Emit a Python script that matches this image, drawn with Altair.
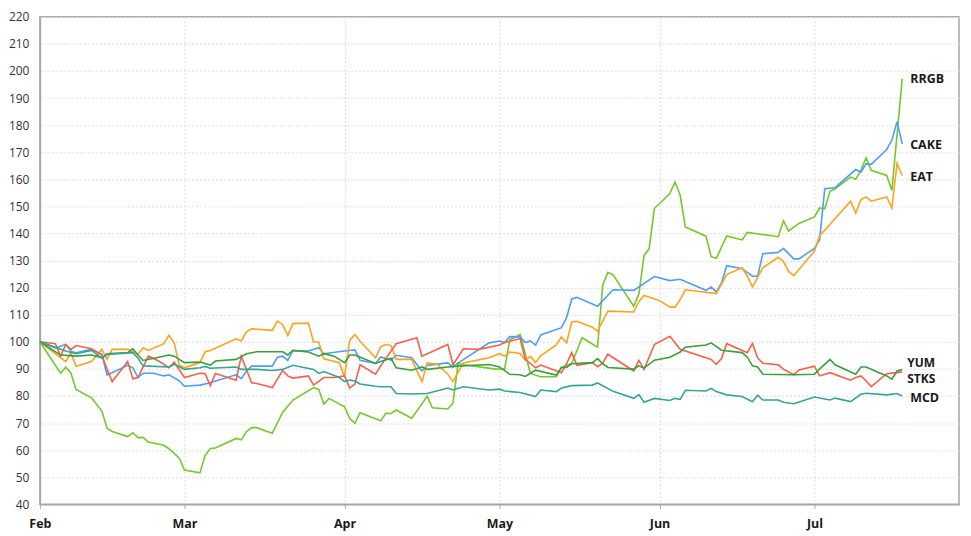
import altair as alt
import pandas as pd

YEAR = 2021

# readings, index = 100 on Feb 1
rrgb_dates = ["02-01", "02-05", "02-06", "02-07", "02-08", "02-11", "02-13", "02-14", "02-15", "02-18",
              "02-19", "02-20", "02-21", "02-22", "02-25", "02-26", "02-28", "03-01", "03-04", "03-05",
              "03-06", "03-07", "03-11", "03-12", "03-13", "03-14", "03-15", "03-18", "03-20", "03-22",
              "03-26", "03-27", "03-28", "03-29", "04-01", "04-02", "04-03", "04-04", "04-08", "04-09",
              "04-10", "04-11", "04-14", "04-15", "04-17", "04-18", "04-21", "04-22", "04-23", "04-24",
              "04-30", "05-02", "05-03", "05-05", "05-07", "05-09", "05-12", "05-13", "05-15", "05-17",
              "05-20", "05-21", "05-22", "05-23", "05-27", "05-28", "05-29", "05-30", "05-31", "06-03",
              "06-04", "06-05", "06-06", "06-10", "06-11", "06-12", "06-14", "06-17", "06-18", "06-24",
              "06-25", "06-26", "06-28", "07-01", "07-02", "07-03", "07-04", "07-05", "07-08", "07-09",
              "07-10", "07-11", "07-12", "07-15", "07-16", "07-18"]
rrgb_vals = [100, 88.4, 90.6, 88.5, 82.4, 79.3, 74.4, 68.1, 66.9, 65.0,
             66.4, 64.6, 64.7, 63.0, 61.8, 60.5, 57.0, 52.6, 51.6, 58.1,
             60.6, 60.8, 64.3, 63.8, 66.8, 68.3, 68.3, 66.2, 73.9, 78.5,
             83.1, 82.4, 77.0, 79.1, 76.0, 71.7, 69.9, 73.8, 70.8, 73.6,
             73.5, 74.8, 71.8, 74.4, 79.9, 75.6, 75.2, 77.4, 92.1, 91.5,
             90.0, 89.9, 100.7, 102.7, 88.3, 87.1, 87.1, 90.5, 92.0, 101.5,
             98.0, 121.0, 125.6, 124.7, 113.1, 117.6, 131.8, 134.5, 149.2, 154.7,
             159.0, 154.1, 142.4, 139.0, 131.4, 130.8, 139.1, 137.6, 140.4, 138.8,
             144.7, 140.9, 143.7, 146.1, 149.4, 149.1, 155.6, 156.5, 160.8, 160.0,
             163.3, 167.9, 163.3, 161.4, 155.9, 197.1]

cake_dates = ["02-01", "02-04", "02-06", "02-07", "02-08", "02-11", "02-13", "02-14", "02-15", "02-18",
              "02-19", "02-20", "02-21", "02-23", "02-25", "02-26", "02-28", "03-01", "03-04", "03-06",
              "03-07", "03-11", "03-12", "03-13", "03-14", "03-18", "03-19", "03-20", "03-21", "03-22",
              "03-25", "03-27", "03-28", "04-01", "04-03", "04-04", "04-07", "04-08", "04-10", "04-11",
              "04-14", "04-16", "04-17", "04-21", "04-22", "04-23", "04-24", "04-29", "05-01", "05-02",
              "05-03", "05-05", "05-06", "05-07", "05-08", "05-09", "05-13", "05-14", "05-15", "05-16",
              "05-20", "05-23", "05-27", "05-31", "06-03", "06-05", "06-10", "06-11", "06-12", "06-13",
              "06-14", "06-17", "06-19", "06-20", "06-21", "06-24", "06-25", "06-27", "06-28", "07-01",
              "07-02", "07-03", "07-05", "07-09", "07-10", "07-11", "07-12", "07-15", "07-16", "07-17",
              "07-18"]
cake_vals = [100, 97.7, 99.0, 96.6, 95.9, 97.2, 95.4, 87.8, 88.6, 91.3,
             90.4, 86.8, 88.4, 88.4, 87.4, 87.8, 85.6, 83.6, 84.0, 84.9,
             85.5, 87.8, 86.4, 89.1, 91.0, 91.0, 94.3, 94.7, 93.1, 96.8,
             96.6, 97.8, 95.6, 96.6, 97.0, 93.2, 92.0, 94.4, 93.2, 95.0,
             94.1, 89.2, 91.3, 92.2, 90.7, 92.2, 93.4, 99.6, 100.3, 99.7,
             101.9, 101.8, 99.7, 100.3, 98.8, 102.5, 105.2, 108.9, 115.8, 116.4,
             113.1, 119.2, 119.0, 124.1, 122.6, 123.1, 119.0, 120.2, 118.4, 121.7,
             128.1, 127.0, 124.2, 124.2, 132.5, 133.0, 134.5, 130.6, 130.6, 134.5,
             137.6, 156.5, 156.9, 163.6, 162.6, 165.7, 165.5, 171.0, 174.5, 181.3,
             173.1]

eat_dates = ["02-01", "02-06", "02-07", "02-08", "02-11", "02-13", "02-14", "02-15", "02-18", "02-20",
             "02-21", "02-22", "02-25", "02-26", "02-27", "02-28", "03-01", "03-04", "03-05", "03-06",
             "03-11", "03-12", "03-13", "03-14", "03-18", "03-19", "03-20", "03-21", "03-22", "03-25",
             "03-26", "03-27", "03-28", "03-31", "04-01", "04-02", "04-03", "04-04", "04-07", "04-08",
             "04-09", "04-10", "04-11", "04-14", "04-16", "04-17", "04-19", "04-21", "04-22", "04-24",
             "04-29", "05-01", "05-02", "05-03", "05-05", "05-06", "05-07", "05-08", "05-09", "05-12",
             "05-13", "05-14", "05-15", "05-16", "05-19", "05-20", "05-21", "05-22", "05-27", "05-28",
             "05-29", "06-01", "06-03", "06-04", "06-05", "06-06", "06-12", "06-14", "06-17", "06-18",
             "06-19", "06-21", "06-24", "06-25", "06-26", "06-27", "07-01", "07-02", "07-08", "07-09",
             "07-10", "07-11", "07-12", "07-15", "07-16", "07-17", "07-18"]
eat_vals = [100, 92.7, 95.9, 91.0, 92.7, 97.2, 93.5, 97.2, 97.2, 95.4,
            97.8, 96.8, 99.3, 102.4, 99.6, 91.3, 90.4, 92.3, 96.3, 96.8,
            101.1, 100.3, 103.7, 104.8, 104.2, 107.6, 106.4, 102.3, 106.7, 106.9,
            99.9, 99.9, 93.7, 92.3, 87.0, 100.5, 102.7, 100.2, 94.1, 98.2,
            99.0, 98.6, 93.5, 93.5, 85.3, 92.2, 91.6, 88.0, 85.3, 92.2,
            94.1, 95.6, 94.7, 96.2, 95.7, 93.2, 94.6, 92.3, 94.9, 98.8,
            101.8, 99.6, 107.4, 107.6, 105.4, 103.9, 107.6, 111.3, 111.0, 114.9,
            117.1, 115.2, 112.8, 112.8, 115.6, 119.2, 117.8, 124.8, 127.3, 124.2,
            120.2, 127.3, 131.2, 129.6, 126.0, 124.4, 133.5, 139.1, 151.9, 147.5,
            152.5, 153.5, 151.9, 153.5, 149.4, 165.9, 161.4]

yum_dates = ["02-01", "02-04", "02-05", "02-06", "02-07", "02-08", "02-11", "02-13", "02-14", "02-15",
             "02-18", "02-19", "02-20", "02-22", "02-24", "02-26", "02-27", "03-01", "03-04", "03-05",
             "03-06", "03-07", "03-11", "03-12", "03-14", "03-15", "03-18", "03-20", "03-21", "03-22",
             "03-25", "03-26", "03-28", "03-30", "04-01", "04-02", "04-03", "04-04", "04-07", "04-08",
             "04-11", "04-15", "04-16", "04-21", "04-22", "04-24", "04-27", "05-01", "05-02", "05-05",
             "05-06", "05-08", "05-09", "05-13", "05-14", "05-15", "05-16", "05-19", "05-20", "05-21",
             "05-22", "05-27", "05-28", "05-29", "05-31", "06-03", "06-05", "06-11", "06-12", "06-13",
             "06-14", "06-18", "06-19", "06-20", "06-21", "06-24", "06-25", "06-27", "06-28", "07-01",
             "07-02", "07-04", "07-08", "07-09", "07-10", "07-11", "07-12", "07-15", "07-17", "07-18"]
yum_vals = [100, 99.3, 94.7, 99.0, 97.2, 98.6, 97.4, 95.1, 89.9, 85.3,
            92.7, 86.3, 86.8, 94.7, 92.9, 90.4, 92.5, 86.8, 88.4, 88.3,
            83.8, 88.3, 85.8, 94.7, 84.9, 84.6, 83.1, 89.4, 87.4, 86.6,
            87.4, 84.0, 86.8, 86.8, 87.4, 82.9, 84.4, 91.5, 88.0, 91.1,
            99.3, 101.5, 94.7, 99.0, 91.5, 97.4, 97.2, 98.8, 99.7, 101.2,
            93.5, 90.4, 91.4, 88.6, 91.9, 96.0, 91.3, 92.3, 90.8, 92.1,
            95.4, 89.2, 93.1, 89.8, 99.0, 102.0, 97.2, 93.5, 91.7, 93.8,
            99.3, 96.0, 99.4, 94.1, 92.1, 91.5, 89.9, 87.8, 89.6, 91.0,
            87.4, 88.6, 85.8, 86.8, 87.4, 85.6, 83.4, 88.2, 88.6, 88.9]

stks_dates = ["02-01", "02-05", "02-08", "02-11", "02-13", "02-14", "02-18", "02-19", "02-20", "02-21",
              "02-24", "02-26", "02-27", "03-01", "03-04", "03-06", "03-07", "03-11", "03-13", "03-15",
              "03-20", "03-21", "03-22", "03-25", "03-27", "03-28", "03-30", "04-01", "04-02", "04-03",
              "04-07", "04-08", "04-10", "04-11", "04-14", "04-16", "04-17", "04-21", "04-23", "04-29",
              "05-01", "05-03", "05-05", "05-06", "05-08", "05-12", "05-13", "05-14", "05-15", "05-19",
              "05-20", "05-21", "05-22", "05-27", "05-28", "05-29", "05-31", "06-03", "06-05", "06-06",
              "06-10", "06-11", "06-13", "06-17", "06-18", "06-19", "06-20", "06-21", "06-27", "07-01",
              "07-02", "07-04", "07-05", "07-09", "07-10", "07-11", "07-15", "07-16", "07-17", "07-18"]
stks_vals = [100, 95.1, 94.7, 95.1, 94.1, 95.6, 96.0, 97.4, 95.1, 93.1,
             94.3, 95.1, 94.7, 92.3, 92.5, 91.4, 92.9, 93.5, 95.6, 96.3,
             96.3, 95.1, 96.8, 96.2, 94.7, 95.6, 94.7, 92.3, 95.1, 95.1,
             92.0, 92.7, 93.9, 90.4, 89.5, 90.7, 89.8, 90.7, 91.0, 91.6,
             90.7, 88.0, 87.8, 87.2, 89.5, 87.7, 90.5, 90.5, 91.9, 92.3,
             93.8, 91.9, 90.5, 89.9, 91.1, 90.3, 93.2, 94.3, 96.2, 98.0,
             98.8, 99.6, 96.9, 96.0, 94.3, 91.1, 90.7, 88.0, 87.8, 88.0,
             89.9, 93.5, 91.5, 88.0, 90.7, 90.7, 87.4, 86.2, 89.2, 89.8]

mcd_dates = ["02-01", "02-06", "02-08", "02-11", "02-13", "02-14", "02-19", "02-20", "02-21", "02-26",
             "02-27", "03-01", "03-04", "03-05", "03-06", "03-11", "03-12", "03-15", "03-18", "03-20",
             "03-22", "03-26", "03-27", "03-28", "03-31", "04-01", "04-02", "04-03", "04-04", "04-07",
             "04-08", "04-10", "04-11", "04-14", "04-17", "04-21", "04-22", "04-24", "04-29", "05-01",
             "05-02", "05-05", "05-08", "05-09", "05-12", "05-13", "05-15", "05-19", "05-20", "05-23",
             "05-27", "05-28", "05-29", "05-31", "06-03", "06-04", "06-05", "06-06", "06-10", "06-11",
             "06-12", "06-14", "06-17", "06-19", "06-20", "06-21", "06-24", "06-25", "06-27", "07-01",
             "07-04", "07-05", "07-08", "07-10", "07-11", "07-15", "07-17", "07-18"]
mcd_vals = [100, 96.6, 95.6, 96.8, 93.9, 95.3, 96.0, 93.9, 91.1, 90.7,
            91.7, 89.8, 90.4, 90.9, 90.2, 90.7, 89.8, 89.8, 89.4, 89.8,
            91.3, 89.8, 88.3, 89.0, 86.8, 85.3, 85.9, 85.5, 84.4, 83.6,
            83.4, 83.4, 80.9, 80.7, 80.9, 82.9, 82.2, 83.4, 82.2, 82.5,
            81.8, 81.3, 79.8, 82.2, 81.6, 82.9, 83.8, 84.0, 84.8, 81.7,
            79.1, 80.5, 77.7, 79.1, 78.3, 79.1, 78.7, 82.1, 81.8, 82.8,
            81.6, 80.4, 79.8, 77.9, 80.3, 78.5, 78.5, 77.7, 77.1, 79.6,
            78.5, 79.2, 77.9, 80.6, 81.0, 80.4, 80.9, 80.0]

tickers = ["RRGB", "CAKE", "EAT", "YUM", "STKS", "MCD"]
colors = ["#74c82a", "#4c9ff5", "#ffa21c", "#f7604a", "#3a9f3a", "#34a596"]
# where the end labels sit (value units), spread apart so they don't collide
label_y = [196.9, 172.8, 160.8, 92.3, 86.4, 79.4]
label_date = "07-18"

series = {
    "RRGB": (rrgb_dates, rrgb_vals),
    "CAKE": (cake_dates, cake_vals),
    "EAT": (eat_dates, eat_vals),
    "YUM": (yum_dates, yum_vals),
    "STKS": (stks_dates, stks_vals),
    "MCD": (mcd_dates, mcd_vals),
}

rows = []
for name, (dates, vals) in series.items():
    for d, v in zip(dates, vals):
        rows.append({"ticker": name, "date": pd.Timestamp(f"{YEAR}-{d}"), "value": v})
df = pd.DataFrame(rows)

labels = pd.DataFrame({
    "ticker": tickers,
    "date": [pd.Timestamp(f"{YEAR}-{label_date}")] * len(tickers),
    "value": label_y,
})

month_ticks = [alt.DateTime(year=YEAR, month=m, date=1) for m in range(2, 8)]
x_scale = alt.Scale(domain=[alt.DateTime(year=YEAR, month=2, date=1),
                            alt.DateTime(year=YEAR, month=7, date=29)])
y_scale = alt.Scale(domain=[40, 220], nice=False)

x_axis = alt.Axis(values=month_ticks, format="%b", labelFontWeight="bold",
                  labelFontSize=12.5, labelColor="#1a1a1a", labelPadding=9,
                  labelAlign="center", labelFlush=False, labelOverlap=False,
                  tickSize=4, tickColor="#a6a6a6", gridDash=[2, 2],
                  gridColor="#dcdcdc", domainColor="#a6a6a6", domainWidth=1.5)
y_axis = alt.Axis(values=list(range(40, 221, 10)), ticks=False, labelFontSize=12,
                  labelColor="#333333", labelPadding=11, labelOverlap=False,
                  labelFlush=False, gridDash=[2, 2],
                  gridColor="#dcdcdc", domainColor="#a6a6a6", domainWidth=1.5)

# same x / y definitions for every layer so the shared axes merge cleanly
x_enc = alt.X("date:T", scale=x_scale, title=None, axis=x_axis)
y_enc = alt.Y("value:Q", scale=y_scale, title=None, axis=y_axis)

lines = alt.Chart(df).mark_line(strokeWidth=1.6).encode(
    x=x_enc,
    y=y_enc,
    color=alt.Color("ticker:N", scale=alt.Scale(domain=tickers, range=colors), legend=None),
    detail="ticker:N",
)

text_base = alt.Chart(labels).encode(x=x_enc, y=y_enc, text="ticker:N")
text_wide = text_base.transform_filter(
    alt.FieldOneOfPredicate(field="ticker", oneOf=["RRGB", "CAKE", "EAT", "MCD"])
).mark_text(align="left", baseline="middle", dx=8, fontSize=12.5, fontWeight="bold",
            color="#1a1a1a")
text_near = text_base.transform_filter(
    alt.FieldOneOfPredicate(field="ticker", oneOf=["YUM", "STKS"])
).mark_text(align="left", baseline="middle", dx=5, fontSize=12, fontWeight="bold",
            color="#1a1a1a")

chart = (
    alt.layer(lines, text_wide, text_near)
    .properties(
        width=922,
        height=489,
        autosize=alt.AutoSizeParams(type="none"),
        padding={"left": 32, "top": 8, "right": 4, "bottom": 30},
    )
    .configure(font="Open Sans")
    .configure_view(stroke="#a6a6a6", strokeWidth=1.5)
)

chart.save("out.html", embed_options={"renderer": "svg", "actions": False})
